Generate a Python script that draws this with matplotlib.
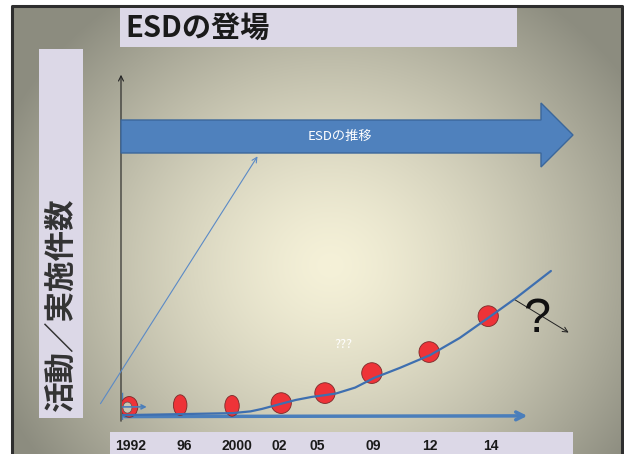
import numpy as np
import matplotlib.pyplot as plt
from matplotlib.patches import Rectangle, Polygon, Ellipse

plt.rcParams['font.family'] = ['Noto Sans CJK JP', 'DejaVu Sans']

# Chart content
title = 'ESDの登場'
y_label = '活動／実施件数'
arrow_label = 'ESDの推移'
years = ['1992', '96', '2000', '02', '05', '09', '12', '14']

# Activity level at each year slot (x: slot position 0-100, y: level 0-100)
dot_x = [1.6, 12.9, 24.4, 35.3, 45.0, 55.4, 68.1, 81.2]
dot_y = [3.8, 4.3, 4.1, 4.9, 7.8, 13.6, 19.7, 30.1]
label_x = [1.8, 13.7, 25.5, 34.8, 43.3, 55.7, 68.3, 81.8]

# Trend curve through the activity levels
trend_x = [0.0, 12.9, 24.6, 28.5, 31.0, 35.0, 38.5, 42.1, 45.0, 47.5,
           51.7, 55.9, 61.6, 68.3, 74.9, 81.2, 87.4, 95.1]
trend_y = [1.4, 1.7, 2.0, 2.5, 3.2, 4.6, 5.8, 6.7, 7.2, 7.7,
           9.4, 12.2, 15.1, 18.8, 23.8, 29.6, 35.4, 43.2]

W, H = 624, 454
fig = plt.figure(figsize=(W / 100, H / 100), dpi=100)

# Slide canvas in pixel units
bg = fig.add_axes([0, 0, 1, 1])
bg.set_xlim(0, W)
bg.set_ylim(H, 0)
bg.axis('off')

# radial gradient background
yy, xx = np.mgrid[0:H, 0:W]
d = np.sqrt(((xx - 330) / 360.0) ** 2 + ((yy - 265) / 330.0) ** 2)
t = np.clip(d, 0, 1) ** 1.4
c0 = np.array([245, 241, 216]) / 255.0
c1 = np.array([140, 140, 127]) / 255.0
img = c0[None, None, :] + (c1 - c0)[None, None, :] * t[:, :, None]
img[:6, :] = 1.0
img[:, :12] = 1.0
bg.imshow(img, extent=(0, W, H, 0), interpolation='bilinear', zorder=0)

# slide frame
bg.plot([12, 12, 622, 622], [H, 6, 6, H], color='#2e2e2e', lw=2.2, zorder=1)

lavender = '#dcd8e7'
bg.add_patch(Rectangle((120, 8), 397, 39, facecolor=lavender, edgecolor='none', zorder=2))
bg.text(125, 29, title, fontsize=21, fontweight='bold', color='#1a1a1a',
        va='center', ha='left', zorder=3)

bg.add_patch(Rectangle((39, 49), 44, 369, facecolor=lavender, edgecolor='none', zorder=2))
bg.text(61, 411, y_label, fontsize=22, fontweight='bold', color='#333333',
        rotation=90, ha='center', va='bottom', zorder=3)

bg.add_patch(Rectangle((110, 432), 463, 30, facecolor=lavender, edgecolor='none', zorder=2))

# big "ESD" arrow
blue = '#4f81bd'
bg.add_patch(Polygon([(121, 120), (541, 120), (541, 103), (573, 135),
                      (541, 167), (541, 153), (121, 153)], closed=True,
                     facecolor=blue, edgecolor='#3b679b', lw=1, zorder=3))
bg.text(340, 136, arrow_label, fontsize=9.5, color='white',
        ha='center', va='center', zorder=4)

# vertical axis
bg.annotate('', xy=(121, 72), xytext=(121, 424),
            arrowprops=dict(arrowstyle='->', color='#222222', lw=0.8,
                            mutation_scale=9), zorder=2)

# thin diagonal arrow
bg.annotate('', xy=(259, 154), xytext=(99, 406),
            arrowprops=dict(arrowstyle='->', color='#5b8ac6', lw=0.8,
                            mutation_scale=9), zorder=2)

# question arrow
bg.annotate('', xy=(571, 334), xytext=(512, 298),
            arrowprops=dict(arrowstyle='->', color='#222222', lw=0.7,
                            mutation_scale=9), zorder=5)
bg.text(537, 320, '?', fontsize=35, color='#111111', ha='center', va='center',
        family='Liberation Sans', zorder=5)
bg.text(343, 344, '???', fontsize=9, color='white', ha='center', va='center',
        zorder=5)

# data panel
ax = fig.add_axes([122 / W, (H - 420) / H, 451 / W, 345 / H])
ax.set_xlim(0, 100)
ax.set_ylim(0, 100)
ax.axis('off')
ax.patch.set_alpha(0)

# baseline arrow
ax.annotate('', xy=(90.5, 1.2), xytext=(0, 1.0),
            arrowprops=dict(arrowstyle='->', color='#4a7ebb', lw=2.5,
                            mutation_scale=14), zorder=2)
ax.plot([-0.2, -0.2], [0, 7.5], color='#4a7ebb', lw=2.5, zorder=2)

# activity dots (first one is an open ring)
widths = [3.8, 3.0, 3.2, 4.5, 4.5, 4.5, 4.5, 4.5]
for i, (x, y) in enumerate(zip(dot_x, dot_y)):
    ax.add_patch(Ellipse((x, y), widths[i], 6.0, facecolor='#ee3338',
                         edgecolor='#7a2a2a', lw=0.6, zorder=3))
ax.add_patch(Ellipse((dot_x[0] - 0.4, dot_y[0] - 0.2), 2.0, 3.2,
                     facecolor='#c9c6b2', edgecolor='#555555', lw=0.5, zorder=4))
ax.annotate('', xy=(dot_x[0] + 4.5, dot_y[0]), xytext=(-0.5, dot_y[0]),
            arrowprops=dict(arrowstyle='->', color='#4a7ebb', lw=1.2,
                            mutation_scale=7), zorder=4)

ax.plot(trend_x, trend_y, color='#3e6fb0', lw=1.6, zorder=4,
        solid_capstyle='round', solid_joinstyle='round')

# year labels in the lower band
for x, lab in zip(label_x, years):
    ax.text(x, -7.5, lab, fontsize=10, fontweight='bold', color='#1a1a1a',
            family='Liberation Sans', ha='center', va='center', clip_on=False)

fig.savefig('out.png', dpi=100)
